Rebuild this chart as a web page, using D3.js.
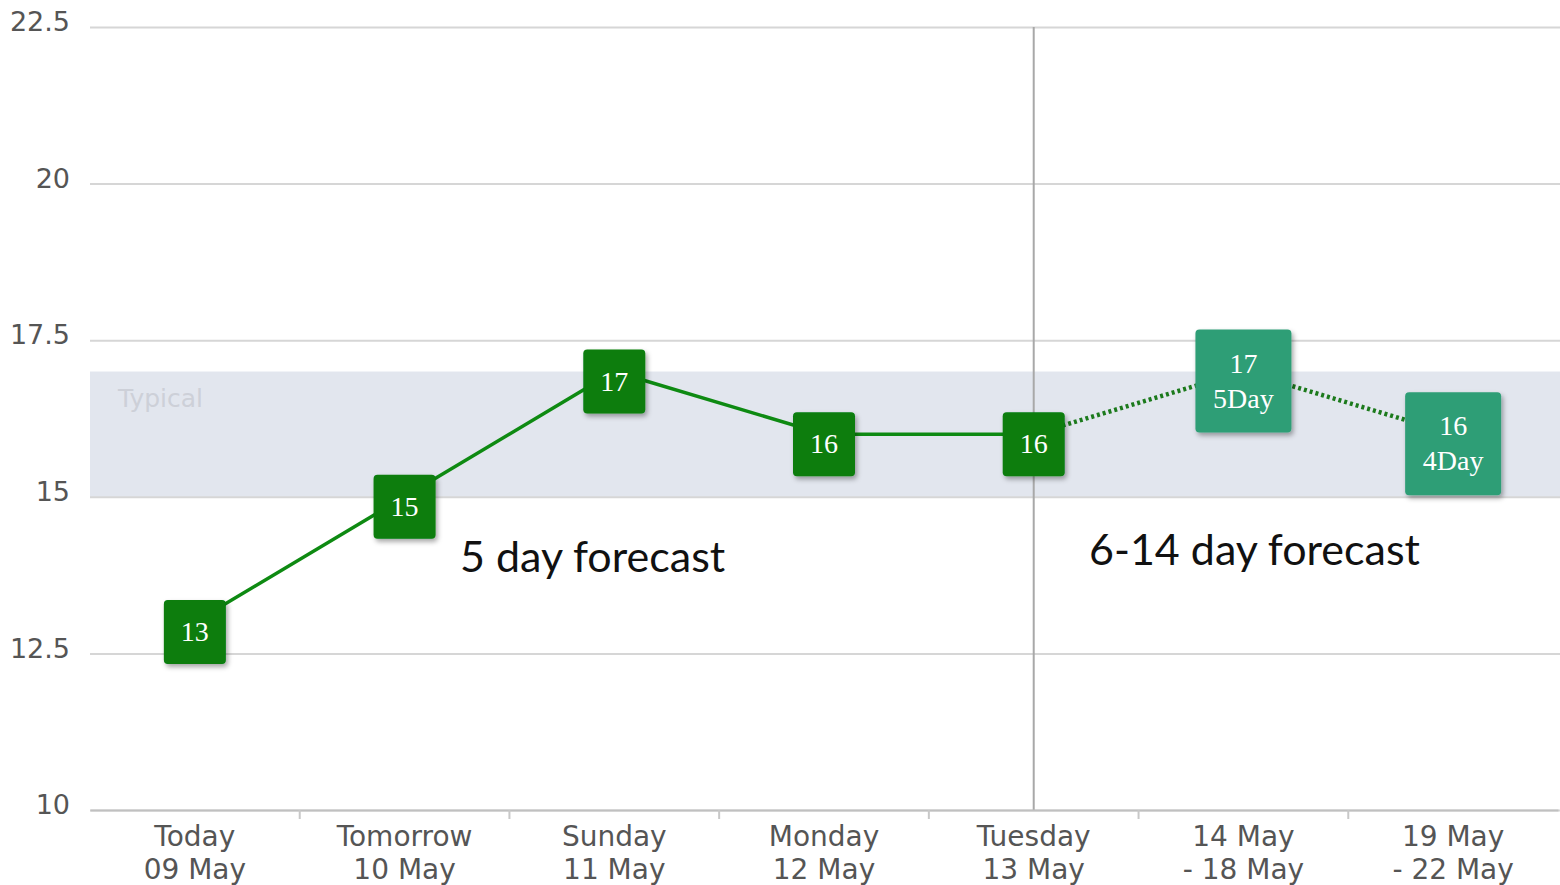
<!DOCTYPE html>
<html>
<head>
<meta charset="utf-8">
<script src="https://cdn.jsdelivr.net/npm/d3@7"></script>
<style>
  body { margin: 0; background: #fff; }
</style>
</head>
<body>
<div id="chart"></div>
<script>

var dayNames = ["Today", "Tomorrow", "Sunday", "Monday", "Tuesday", "14 May", "19 May"];
var dayDates = ["09 May", "10 May", "11 May", "12 May", "13 May", "- 18 May", "- 22 May"];
var temps = [13, 15, 17, 16, 16, 17, 16];
var extraLabels = ["", "", "", "", "", "5Day", "4Day"];
var yTicks = [10, 12.5, 15, 17.5, 20, 22.5];
var typicalBand = [15, 17];
var fiveDayCount = 5;

var width = 1560, height = 885;

var svg = d3.select("#chart")
  .append("svg")
    .attr("width", width)
    .attr("height", height);

// drop shadow for the markers
var defs = svg.append("defs");
var shadow = defs.append("filter")
    .attr("id", "shadow")
    .attr("x", "-20%").attr("y", "-20%")
    .attr("width", "150%").attr("height", "150%");
shadow.append("feDropShadow")
    .attr("dx", 2).attr("dy", 3)
    .attr("stdDeviation", 2.5)
    .attr("flood-color", "#000")
    .attr("flood-opacity", 0.35);

var x = d3.scaleBand()
    .domain(d3.range(dayNames.length))
    .range([90, 1558]);

var y = d3.scaleLinear()
    .domain([10, 22.5])
    .range([810, 27]);

// typical band
svg.append("rect")
    .attr("x", 90)
    .attr("y", y(typicalBand[1]))
    .attr("width", width - 90)
    .attr("height", y(typicalBand[0]) - y(typicalBand[1]))
    .style("fill", "#e2e6ee");

svg.append("text")
    .attr("x", 118)
    .attr("y", y(typicalBand[1]) + 35)
    .text("Typical")
    .style("font-family", "DejaVu Sans")
    .style("font-size", "25px")
    .style("fill", "#cdd0d8");

// grid lines
var yAxis = d3.axisLeft(y)
    .tickValues(yTicks)
    .tickSize(-(width - 90))
    .tickFormat(function(d){ return d; });

var gy = svg.append("g")
    .attr("transform", "translate(90,0)")
    .call(yAxis);
gy.select(".domain").remove();
gy.selectAll(".tick line")
    .style("stroke", "#d6d6d6")
    .style("stroke-width", 2);
gy.selectAll(".tick text")
    .attr("x", -20)
    .attr("y", -5)
    .attr("dy", "0.32em")
    .style("font-family", "DejaVu Sans")
    .style("font-size", "27px")
    .style("fill", "#555");

// vertical divider between 5 day and 6-14 day forecast
svg.append("line")
    .attr("x1", x(fiveDayCount - 1) + x.bandwidth() / 2)
    .attr("x2", x(fiveDayCount - 1) + x.bandwidth() / 2)
    .attr("y1", y(22.5))
    .attr("y2", y(10))
    .style("stroke", "#a8a8a8")
    .style("stroke-width", 2);

// x axis
var xAxis = d3.axisBottom(x)
    .tickSize(0)
    .tickFormat("");
var gx = svg.append("g")
    .attr("transform", "translate(0," + y(10) + ")")
    .call(xAxis);
gx.select(".domain")
    .style("stroke", "#c0c0c0")
    .style("stroke-width", 2);

// little ticks between categories
gx.selectAll(".sep")
    .data(d3.range(1, dayNames.length))
    .enter().append("line")
    .attr("class", "sep")
    .attr("x1", function(d){ return x(d); })
    .attr("x2", function(d){ return x(d); })
    .attr("y1", 0)
    .attr("y2", 9)
    .style("stroke", "#c8c8c8")
    .style("stroke-width", 2);

var xLabels = svg.append("g").selectAll(".xlab")
    .data(dayNames)
    .enter().append("text")
    .attr("class", "xlab")
    .attr("x", function(d,i){ return x(i) + x.bandwidth() / 2; })
    .attr("y", 846)
    .style("text-anchor", "middle")
    .style("font-family", "DejaVu Sans")
    .style("font-size", "28px")
    .style("fill", "#555");
xLabels.append("tspan")
    .attr("x", function(d,i){ return x(i) + x.bandwidth() / 2; })
    .text(function(d){ return d; });
xLabels.append("tspan")
    .attr("x", function(d,i){ return x(i) + x.bandwidth() / 2; })
    .attr("dy", 33)
    .text(function(d,i){ return dayDates[i]; });

// lines
var pts = temps.map(function(d,i){ return [x(i) + x.bandwidth() / 2, y(d)]; });
var line = d3.line();

svg.append("path")
    .attr("d", line(pts.slice(0, fiveDayCount)))
    .style("fill", "none")
    .style("stroke", "#0e8a12")
    .style("stroke-width", 3.5);

svg.append("path")
    .attr("d", line(pts.slice(fiveDayCount - 1)))
    .style("fill", "none")
    .style("stroke", "#1c7a1c")
    .style("stroke-width", 4.5)
    .style("stroke-dasharray", "3,3");

// markers
var markers = svg.selectAll(".marker")
    .data(temps)
    .enter().append("g")
    .attr("class", "marker")
    .attr("transform", function(d,i){
        return "translate(" + (x(i) + x.bandwidth() / 2) + "," + (y(d) + 10) + ")";
    });

markers.append("rect")
    .attr("x", function(d,i){ return extraLabels[i] ? -48 : -31; })
    .attr("y", function(d,i){ return extraLabels[i] ? -52 : -32; })
    .attr("width", function(d,i){ return extraLabels[i] ? 96 : 62; })
    .attr("height", function(d,i){ return extraLabels[i] ? 103 : 64; })
    .attr("rx", 4)
    .style("fill", function(d,i){ return extraLabels[i] ? "#2f9e76" : "#077d0a"; })
    .attr("filter", "url(#shadow)");

markers.append("text")
    .attr("y", function(d,i){ return extraLabels[i] ? -9 : 9; })
    .style("text-anchor", "middle")
    .style("font-family", "Liberation Serif")
    .style("font-size", "28px")
    .style("fill", "#fff")
    .text(function(d){ return d; });

markers.append("text")
    .attr("y", 26)
    .style("text-anchor", "middle")
    .style("font-family", "Liberation Serif")
    .style("font-size", "28px")
    .style("fill", "#fff")
    .text(function(d,i){ return extraLabels[i]; });

// annotations
svg.append("text")
    .attr("x", 460)
    .attr("y", 572)
    .text("5 day forecast")
    .style("font-family", "Lato")
    .style("font-size", "43px")
    .style("fill", "#111");

svg.append("text")
    .attr("x", 1089)
    .attr("y", 565)
    .text("6-14 day forecast")
    .style("font-family", "Lato")
    .style("font-size", "43px")
    .style("fill", "#111");

</script>
</body>
</html>
